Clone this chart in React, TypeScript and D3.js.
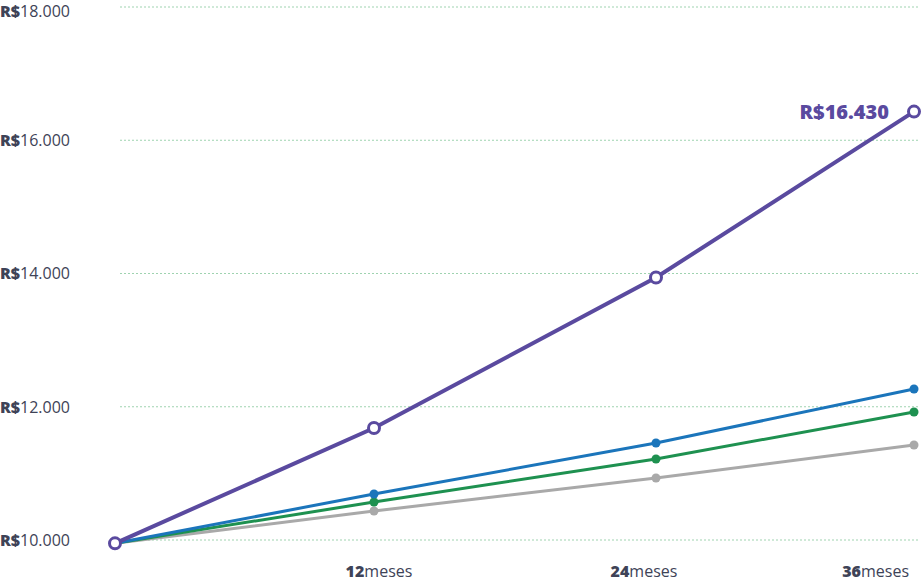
import React from "react";
import * as d3 from "d3";

const months = [0, 12, 24, 36];
const purple = [9950, 11680, 13940, 16430];
const blue = [9950, 10690, 11456, 12267];
const green = [9950, 10570, 11216, 11922];
const gray = [9950, 10435, 10931, 11426];
const yTicks = [10000, 12000, 14000, 16000, 18000];
const xTickLabels = ["12", "24", "36"];
const xTickMonths = [12, 24, 36];

const W = 923;
const H = 581;

export default function App() {
  const x = d3.scaleLinear().domain(months).range([115, 374, 656, 914]);
  const y = d3.scaleLinear().domain([10000, 18000]).range([540, 7]);
  const line = d3
    .line<number>()
    .x((_, i) => x(months[i]))
    .y((v) => y(v));
  const font = "'Open Sans', Lato, sans-serif";
  const textColor = "#3e4357";

  const series = [
    { data: gray, color: "#a9a9a9", w: 3, r: 4.5 },
    { data: green, color: "#1e9150", w: 3, r: 4.5 },
    { data: blue, color: "#1b75bb", w: 3, r: 4.5 },
  ];

  return (
    <svg
      width={W}
      height={H}
      style={{ position: "absolute", left: 0, top: 0, background: "#fff" }}
      fontFamily={font}
    >
      {yTicks.map((t) => (
        <g key={t}>
          <line
            x1={120}
            x2={918}
            y1={y(t)}
            y2={y(t)}
            stroke="#9fd3b0"
            strokeWidth={1}
            strokeDasharray="2 2"
          />
          <text
            x={0}
            y={Math.max(y(t), 11)}
            dy="0.36em"
            fontSize={16}
            fill={textColor}
          >
            <tspan fontWeight={800}>R$</tspan>
            <tspan fontWeight={400}>{d3.format(",")(t).replace(",", ".")}</tspan>
          </text>
        </g>
      ))}
      {xTickMonths.map((m, i) => {
        const last = i === xTickMonths.length - 1;
        const off = i === 0 ? 5 : i === 1 ? -12 : -5;
        return (
          <text
            key={m}
            x={x(m) + off}
            y={577}
            textAnchor={last ? "end" : "middle"}
            fontSize={16}
            fill={textColor}
          >
            <tspan fontWeight={800}>{xTickLabels[i]}</tspan>
            <tspan fontWeight={400}>meses</tspan>
          </text>
        );
      })}
      {series.map((s, si) => (
        <g key={si}>
          <path d={line(s.data) || ""} fill="none" stroke={s.color} strokeWidth={s.w} />
          {s.data.map((v, i) =>
            i === 0 ? null : (
              <circle key={i} cx={x(months[i])} cy={y(v)} r={s.r} fill={s.color} />
            )
          )}
        </g>
      ))}
      <path d={line(purple) || ""} fill="none" stroke="#5a4a9f" strokeWidth={4} />
      {purple.map((v, i) => (
        <circle
          key={i}
          cx={x(months[i])}
          cy={y(v)}
          r={5.5}
          fill="#fff"
          stroke="#5a4a9f"
          strokeWidth={3}
        />
      ))}
      <text
        x={x(36) - 25}
        y={y(purple[3])}
        dy="0.36em"
        textAnchor="end"
        fontSize={20}
        fontWeight={800}
        fill="#5a4a9f"
      >
        {"R$" + d3.format(",")(purple[3]).replace(",", ".")}
      </text>
    </svg>
  );
}
